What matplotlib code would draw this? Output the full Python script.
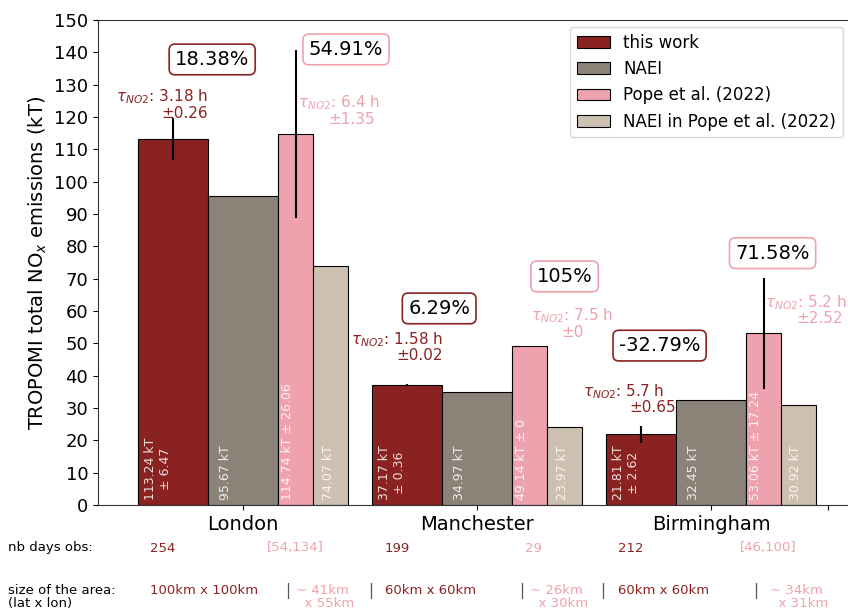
import matplotlib
matplotlib.use("Agg")
import matplotlib.pyplot as plt
import numpy as np

# emissions per city (kT)
cities = ["London", "Manchester", "Birmingham"]
this_work = [113.24, 37.17, 21.81]
this_work_err = [6.47, 0.36, 2.62]
naei = [95.67, 34.97, 32.45]
pope = [114.74, 49.14, 53.06]
pope_err = [26.06, 0, 17.24]
naei_pope = [74.07, 23.97, 30.92]

# NO2 lifetimes (h)
tau_this = [3.18, 1.58, 5.7]
tau_this_err = [0.26, 0.02, 0.65]
tau_pope = [6.4, 7.5, 5.2]
tau_pope_err = [1.35, 0, 2.52]

pct_this = ["18.38%", "6.29%", "-32.79%"]
pct_pope = ["54.91%", "105%", "71.58%"]

days_this = ["254", "199", "212"]
days_pope = ["[54,134]", "29", "[46,100]"]
area_this = ["100km x 100km", "60km x 60km", "60km x 60km"]
area_pope = ["~ 41km\n  x 55km", "~ 26km\n  x 30km", "~ 34km\n  x 31km"]

c_this = "#8B2222"
c_naei = "#8B8378"
c_pope = "#EEA2AD"
c_naei_pope = "#CDC0B0"

W, H = 848, 612
fig = plt.figure(figsize=(W / 100, H / 100), dpi=100)
ax = fig.add_axes([98 / W, 1 - 505 / H, (880 - 98) / W, 485 / H])

x = np.arange(len(cities))
ax.bar(x - 0.3, this_work, 0.3, color=c_this, edgecolor="black", lw=0.8, label="this work")
ax.bar(x, naei, 0.3, color=c_naei, edgecolor="black", lw=0.8, label="NAEI")
ax.bar(x + 0.225, pope, 0.15, color=c_pope, edgecolor="black", lw=0.8, label="Pope et al. (2022)")
ax.bar(x + 0.375, naei_pope, 0.15, color=c_naei_pope, edgecolor="black", lw=0.8,
       label="NAEI in Pope et al. (2022)")
ax.errorbar(x - 0.3, this_work, yerr=this_work_err, fmt="none", ecolor="black", elinewidth=1.5)
ax.errorbar(x + 0.225, pope, yerr=pope_err, fmt="none", ecolor="black", elinewidth=1.5)

# values written inside the bars
txt = dict(rotation=90, ha="center", va="bottom", color="white", alpha=0.85, fontsize=9)
for i in range(len(cities)):
    ax.text(x[i] - 0.365, 1.5, f"{this_work[i]:.2f} kT\n± {this_work_err[i]:g}", **txt)
    ax.text(x[i] - 0.077, 1.5, f"{naei[i]:.2f} kT", **txt)
    ax.text(x[i] + 0.188, 1.5, f"{pope[i]:.2f} kT ± {pope_err[i]:g}", **txt)
    ax.text(x[i] + 0.363, 1.5, f"{naei_pope[i]:.2f} kT", **txt)

# relative differences to the inventories
box_this = [(-0.132, 137.8), (0.838, 60.8), (1.78, 49.3)]
box_pope = [(0.44, 140.9), (1.374, 70.7), (2.263, 77.9)]
for i in range(len(cities)):
    ax.text(*box_this[i], pct_this[i], fontsize=14, ha="center", va="center",
            bbox=dict(boxstyle="round,pad=0.3", fc="white", ec=c_this, lw=1.2))
    ax.text(*box_pope[i], pct_pope[i], fontsize=14, ha="center", va="center",
            bbox=dict(boxstyle="round,pad=0.3", fc="white", ec=c_pope, lw=1.2))

# lifetime annotations: (x line1, y line1, x line2, y line2)
tau_pos_this = [(-0.346, 126.4, -0.248, 121.0), (0.658, 51.2, 0.756, 46.2), (1.628, 35.1, 1.752, 30.1)]
tau_pos_pope = [(0.410, 124.5, 0.464, 119.2), (1.406, 58.6, 1.410, 53.4), (2.406, 62.7, 2.466, 57.6)]
for i in range(len(cities)):
    for tau, err, pos, col in [(tau_this[i], tau_this_err[i], tau_pos_this[i], c_this),
                               (tau_pope[i], tau_pope_err[i], tau_pos_pope[i], c_pope)]:
        ax.text(pos[0], pos[1], r"$\tau_{NO2}$: " + f"{tau:g} h", color=col, fontsize=11,
                ha="center", va="center")
        ax.text(pos[2], pos[3], f"±{err:g}", color=col, fontsize=11, ha="center", va="center")

ax.set_xlim(-0.62, 2.722)
ax.set_ylim(0, 150)
ax.set_yticks(np.arange(0, 151, 10))
ax.set_xticks(list(x) + [2.5])
ax.set_xticklabels(cities + [""], fontsize=14)
ax.tick_params(axis="y", labelsize=13)
ax.set_ylabel("TROPOMI total NO$_x$ emissions (kT)", fontsize=14)
for s in ["top", "bottom", "left", "right"]:
    ax.spines[s].set_color("#333333")

ax.legend(loc="upper right", bbox_to_anchor=(843 / W, 1 - 27 / H), bbox_transform=fig.transFigure,
          borderaxespad=0, fontsize=12)

# table under the axis
def ft(px, py, s, size=9.5, **kw):
    fig.text(px / W, 1 - py / H, s, fontsize=size, va="center", **kw)

ft(8, 548, "nb days obs:")
ft(8, 597, "size of the area:\n(lat x lon)", linespacing=1.0)
days_x = [(150, 267), (385, 525), (618, 740)]
area_x = [(150, 285, 296, 368), (385, 519, 530, 600), (618, 753, 770, None)]
for i in range(len(cities)):
    ft(days_x[i][0], 548, days_this[i], color=c_this)
    ft(days_x[i][1], 548, days_pope[i], color=c_pope)
    ft(area_x[i][0], 591, area_this[i], color=c_this)
    ft(area_x[i][1], 591, "|", size=11, color="#555555")
    ft(area_x[i][2], 597, area_pope[i], color=c_pope, linespacing=1.0)
    if area_x[i][3] is not None:
        ft(area_x[i][3], 591, "|", size=11, color="#555555")

fig.savefig("out.png", dpi=100)
